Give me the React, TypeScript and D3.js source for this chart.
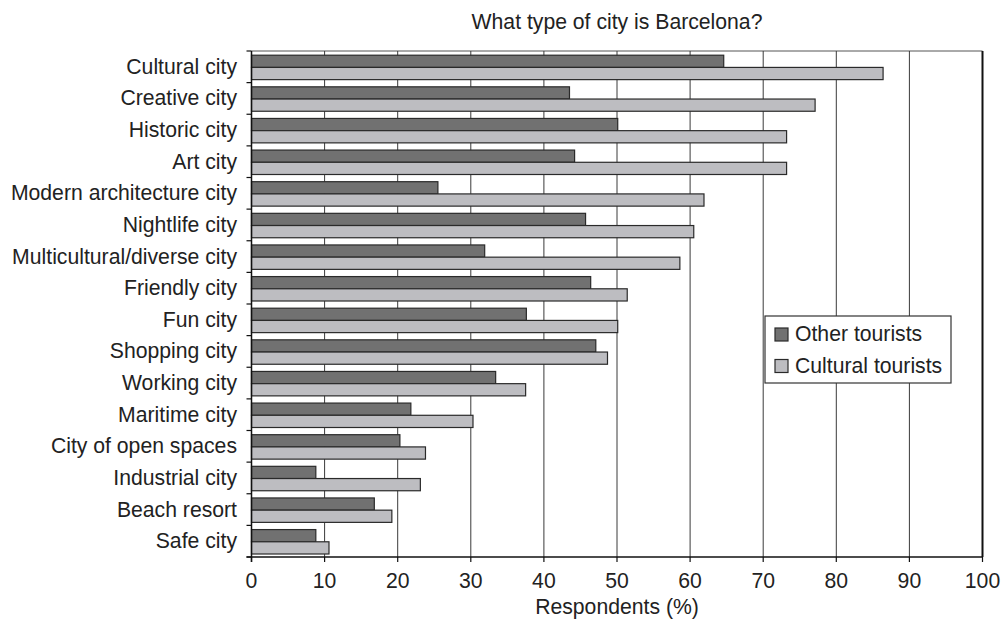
import React from "react";
import * as d3 from "d3";

// Share of respondents describing Barcelona as each type of city
const categories: string[] = [
  "Cultural city",
  "Creative city",
  "Historic city",
  "Art city",
  "Modern architecture city",
  "Nightlife city",
  "Multicultural/diverse city",
  "Friendly city",
  "Fun city",
  "Shopping city",
  "Working city",
  "Maritime city",
  "City of open spaces",
  "Industrial city",
  "Beach resort",
  "Safe city",
];

const otherTourists: number[] = [
  64.6, 43.5, 50.1, 44.2, 25.5, 45.7, 31.9, 46.4, 37.6, 47.1, 33.4, 21.8, 20.3, 8.8, 16.8, 8.8,
];

const culturalTourists: number[] = [
  86.4, 77.1, 73.2, 73.2, 61.9, 60.5, 58.6, 51.4, 50.1, 48.7, 37.5, 30.3, 23.8, 23.1, 19.2, 10.6,
];

const seriesNames: string[] = ["Other tourists", "Cultural tourists"];
const seriesColors: string[] = ["#717171", "#bdbdc1"];
const xTicks: number[] = [0, 10, 20, 30, 40, 50, 60, 70, 80, 90, 100];

const title = "What type of city is Barcelona?";
const xTitle = "Respondents (%)";

const W = 1003;
const H = 620;
const left = 251.5;
const right = 982.5;
const top = 51;
const bottom = 557;
const FONT = "'Liberation Sans', Arial, Helvetica, sans-serif";
const FS = 21.2;

export default function App() {
  const x = d3.scaleLinear().domain([0, 100]).range([left, right]);
  const y = d3.scaleBand<string>().domain(categories).range([top, bottom]);
  const bw = y.bandwidth();
  const ySub = d3.scaleBand<string>().domain(seriesNames).range([4.2, bw - 3]);
  const series = [otherTourists, culturalTourists];

  const boundaries = categories.map((c) => y(c) as number).concat([bottom]);

  return (
    <svg
      width={W}
      height={H}
      style={{ position: "absolute", left: 0, top: 0, background: "#fff" }}
      fontFamily={FONT}
    >
      <rect x={0} y={0} width={W} height={H} fill="#fff" />
      {/* title */}
      <text x={617} y={29} textAnchor="middle" fontSize={FS} fill="#222">
        {title}
      </text>

      {/* top border */}
      <line x1={left} x2={right} y1={top} y2={top} stroke="#555" strokeWidth={1} />

      {/* vertical gridlines */}
      {xTicks
        .filter((t) => t > 0 && t < 100)
        .map((t) => (
          <line
            key={"g" + t}
            x1={x(t)}
            x2={x(t)}
            y1={top}
            y2={bottom}
            stroke="#3a3a3a"
            strokeWidth={1}
          />
        ))}
      {/* right frame */}
      <line x1={right} x2={right} y1={top} y2={bottom} stroke="#111" strokeWidth={2} />

      {/* bars */}
      {series.map((vals, si) =>
        categories.map((c, i) => {
          const y0 = (y(c) as number) + (ySub(seriesNames[si]) as number);
          return (
            <rect
              key={si + "-" + i}
              x={x(0)}
              y={y0}
              width={x(vals[i]) - x(0)}
              height={ySub.bandwidth()}
              fill={seriesColors[si]}
              stroke="#2a2a2a"
              strokeWidth={1.2}
            />
          );
        })
      )}

      {/* y axis */}
      <line x1={left} x2={left} y1={top} y2={bottom + 5} stroke="#111" strokeWidth={1.5} />
      {boundaries.map((b, i) => (
        <line key={"yt" + i} x1={left - 5} x2={left} y1={b} y2={b} stroke="#111" strokeWidth={1.2} />
      ))}
      {categories.map((c) => (
        <text
          key={"yl" + c}
          x={237}
          y={(y(c) as number) + bw / 2}
          dy="0.33em"
          textAnchor="end"
          fontSize={FS}
          fill="#222"
        >
          {c}
        </text>
      ))}

      {/* x axis */}
      <line x1={left - 5} x2={right} y1={bottom} y2={bottom} stroke="#111" strokeWidth={1.5} />
      {xTicks.map((t) => (
        <g key={"xt" + t}>
          <line x1={x(t)} x2={x(t)} y1={bottom} y2={bottom + 5} stroke="#111" strokeWidth={1.2} />
          <text x={x(t)} y={588} textAnchor="middle" fontSize={FS} fill="#222">
            {t}
          </text>
        </g>
      ))}
      <text x={617} y={614} textAnchor="middle" fontSize={FS} fill="#222">
        {xTitle}
      </text>

      {/* legend */}
      <rect x={765} y={316} width={186} height={67} fill="#fff" stroke="#333" strokeWidth={1.2} />
      {seriesNames.map((s, i) => (
        <g key={"lg" + s}>
          <rect
            x={775}
            y={328 + i * 31.5}
            width={13}
            height={13}
            fill={seriesColors[i]}
            stroke="#2a2a2a"
            strokeWidth={1.2}
          />
          <text x={795} y={341 + i * 31.5} fontSize={FS} fill="#222">
            {s}
          </text>
        </g>
      ))}
    </svg>
  );
}
